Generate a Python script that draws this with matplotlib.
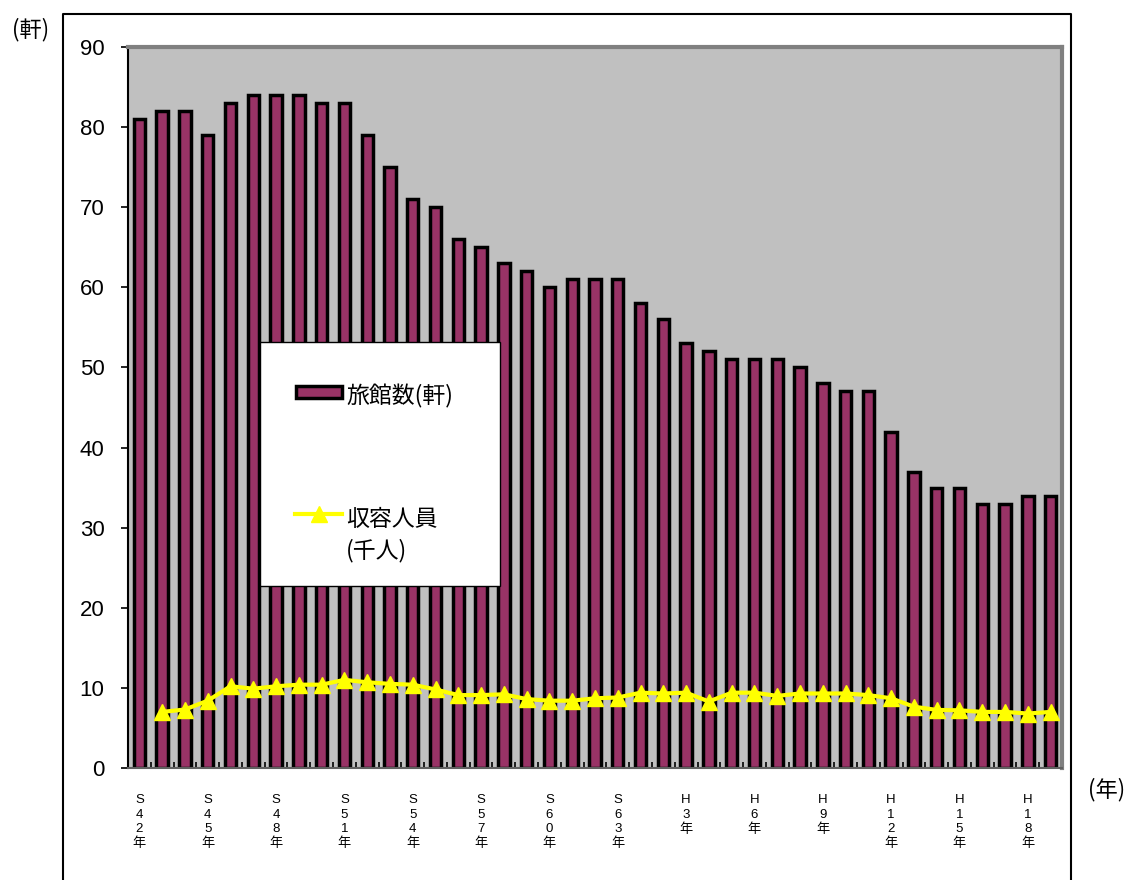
import matplotlib

matplotlib.use("Agg")
import matplotlib.pyplot as plt  # noqa: E402
from matplotlib.lines import Line2D  # noqa: E402
from matplotlib.patches import Rectangle  # noqa: E402

plt.rcParams["font.family"] = ["Liberation Sans", "Noto Sans CJK JP", "DejaVu Sans"]
JP = ["Noto Sans CJK JP", "DejaVu Sans"]

W, H = 1132, 880

# 年次 (S42 = 1967 ... H19 = 2007)
years = (["S%d" % y for y in range(42, 64)]
         + ["H%d" % y for y in range(1, 20)])

# 旅館数 (軒)
inns = [81, 82, 82, 79, 83, 84, 84, 84, 83, 83, 79, 75, 71, 70, 66, 65, 63,
        62, 60, 61, 61, 61, 58, 56, 53, 52, 51, 51, 51, 50, 48, 47, 47, 42,
        37, 35, 35, 33, 33, 34, 34]

# 収容人員 (千人)  S43 から
capacity = [None, 7.0, 7.3, 8.4, 10.2, 9.9, 10.2, 10.4, 10.4, 11.0, 10.7,
            10.5, 10.4, 9.8, 9.1, 9.1, 9.2, 8.6, 8.4, 8.4, 8.7, 8.8, 9.4,
            9.3, 9.4, 8.3, 9.4, 9.4, 9.0, 9.3, 9.3, 9.3, 9.1, 8.7, 7.65,
            7.25, 7.2, 7.0, 7.0, 6.8, 7.0]

BAR = "#993366"
YEL = "#ffff00"


def fx(x):
    return x / W


def fy(y):
    return 1 - y / H


fig = plt.figure(figsize=(W / 100, H / 100), dpi=100)
ax = fig.add_axes([fx(128), fy(768), (1062 - 128) / W, (768 - 47) / H])
ax.set_facecolor("#c0c0c0")

xs = list(range(len(years)))
ax.bar(xs, inns, width=0.5, color=BAR, edgecolor="black", linewidth=2.5, zorder=2)
cx = [x for x, v in zip(xs, capacity) if v is not None]
cy = [v for v in capacity if v is not None]
ax.plot(cx, cy, color=YEL, linewidth=3, marker="^", markersize=11, zorder=3)

ax.set_xlim(-0.5, len(years) - 0.5)
ax.set_ylim(0, 90)
ax.set_yticks(range(0, 91, 10))
ax.tick_params(axis="y", labelsize=16, length=5, width=1.2, pad=12)

# 3年ごとの縦書きラベル
major = xs[::3]
labels = ["\n".join(list(years[i])) + "\n年" for i in major]
ax.set_xticks(major)
ax.set_xticklabels(labels, fontsize=9.5, linespacing=1.25, va="top")
ax.tick_params(axis="x", length=0, pad=19)
ax.set_xticks([x + 0.5 for x in xs[:-1]], minor=True)
ax.tick_params(axis="x", which="minor", direction="in", length=4, width=1.2)

for side in ("top", "right"):
    ax.spines[side].set_color("#808080")
    ax.spines[side].set_linewidth(3)
ax.spines["bottom"].set_color("#606060")
ax.spines["bottom"].set_linewidth(1.5)
ax.spines["left"].set_linewidth(1.5)

# 凡例
tf = fig.transFigure
fig.add_artist(Rectangle((fx(260), fy(586)), 240 / W, 244 / H, transform=tf,
                         facecolor="white", edgecolor="black", linewidth=1, zorder=5))
fig.add_artist(Rectangle((fx(296), fy(398)), 46 / W, 12 / H, transform=tf,
                         facecolor=BAR, edgecolor="black", linewidth=2.5, zorder=6))
fig.add_artist(Line2D([fx(295), fx(342)], [fy(514), fy(514)], transform=tf,
                      color=YEL, linewidth=3, zorder=6))
fig.add_artist(Line2D([fx(318.5)], [fy(514)], transform=tf, color=YEL,
                      marker="^", markersize=11, zorder=6))
fig.text(fx(346), fy(396), "旅館数(軒)", fontsize=16.5, family=JP,
         ha="left", va="center", zorder=7)
fig.text(fx(346), fy(519), "収容人員", fontsize=16.5, family=JP,
         ha="left", va="center", zorder=7)
fig.text(fx(346), fy(551), "(千人)", fontsize=16.5, family=JP,
         ha="left", va="center", zorder=7)

fig.text(fx(31), fy(30), "(軒)", fontsize=16, family=JP, ha="center", va="center")
fig.text(fx(1107), fy(790), "(年)", fontsize=16, family=JP, ha="center", va="center")

# 外枠
fig.add_artist(Line2D([fx(63), fx(63), fx(1071), fx(1071)],
                      [0, fy(14), fy(14), 0], transform=tf,
                      color="black", linewidth=1.5))

fig.savefig("out.png", dpi=100)
